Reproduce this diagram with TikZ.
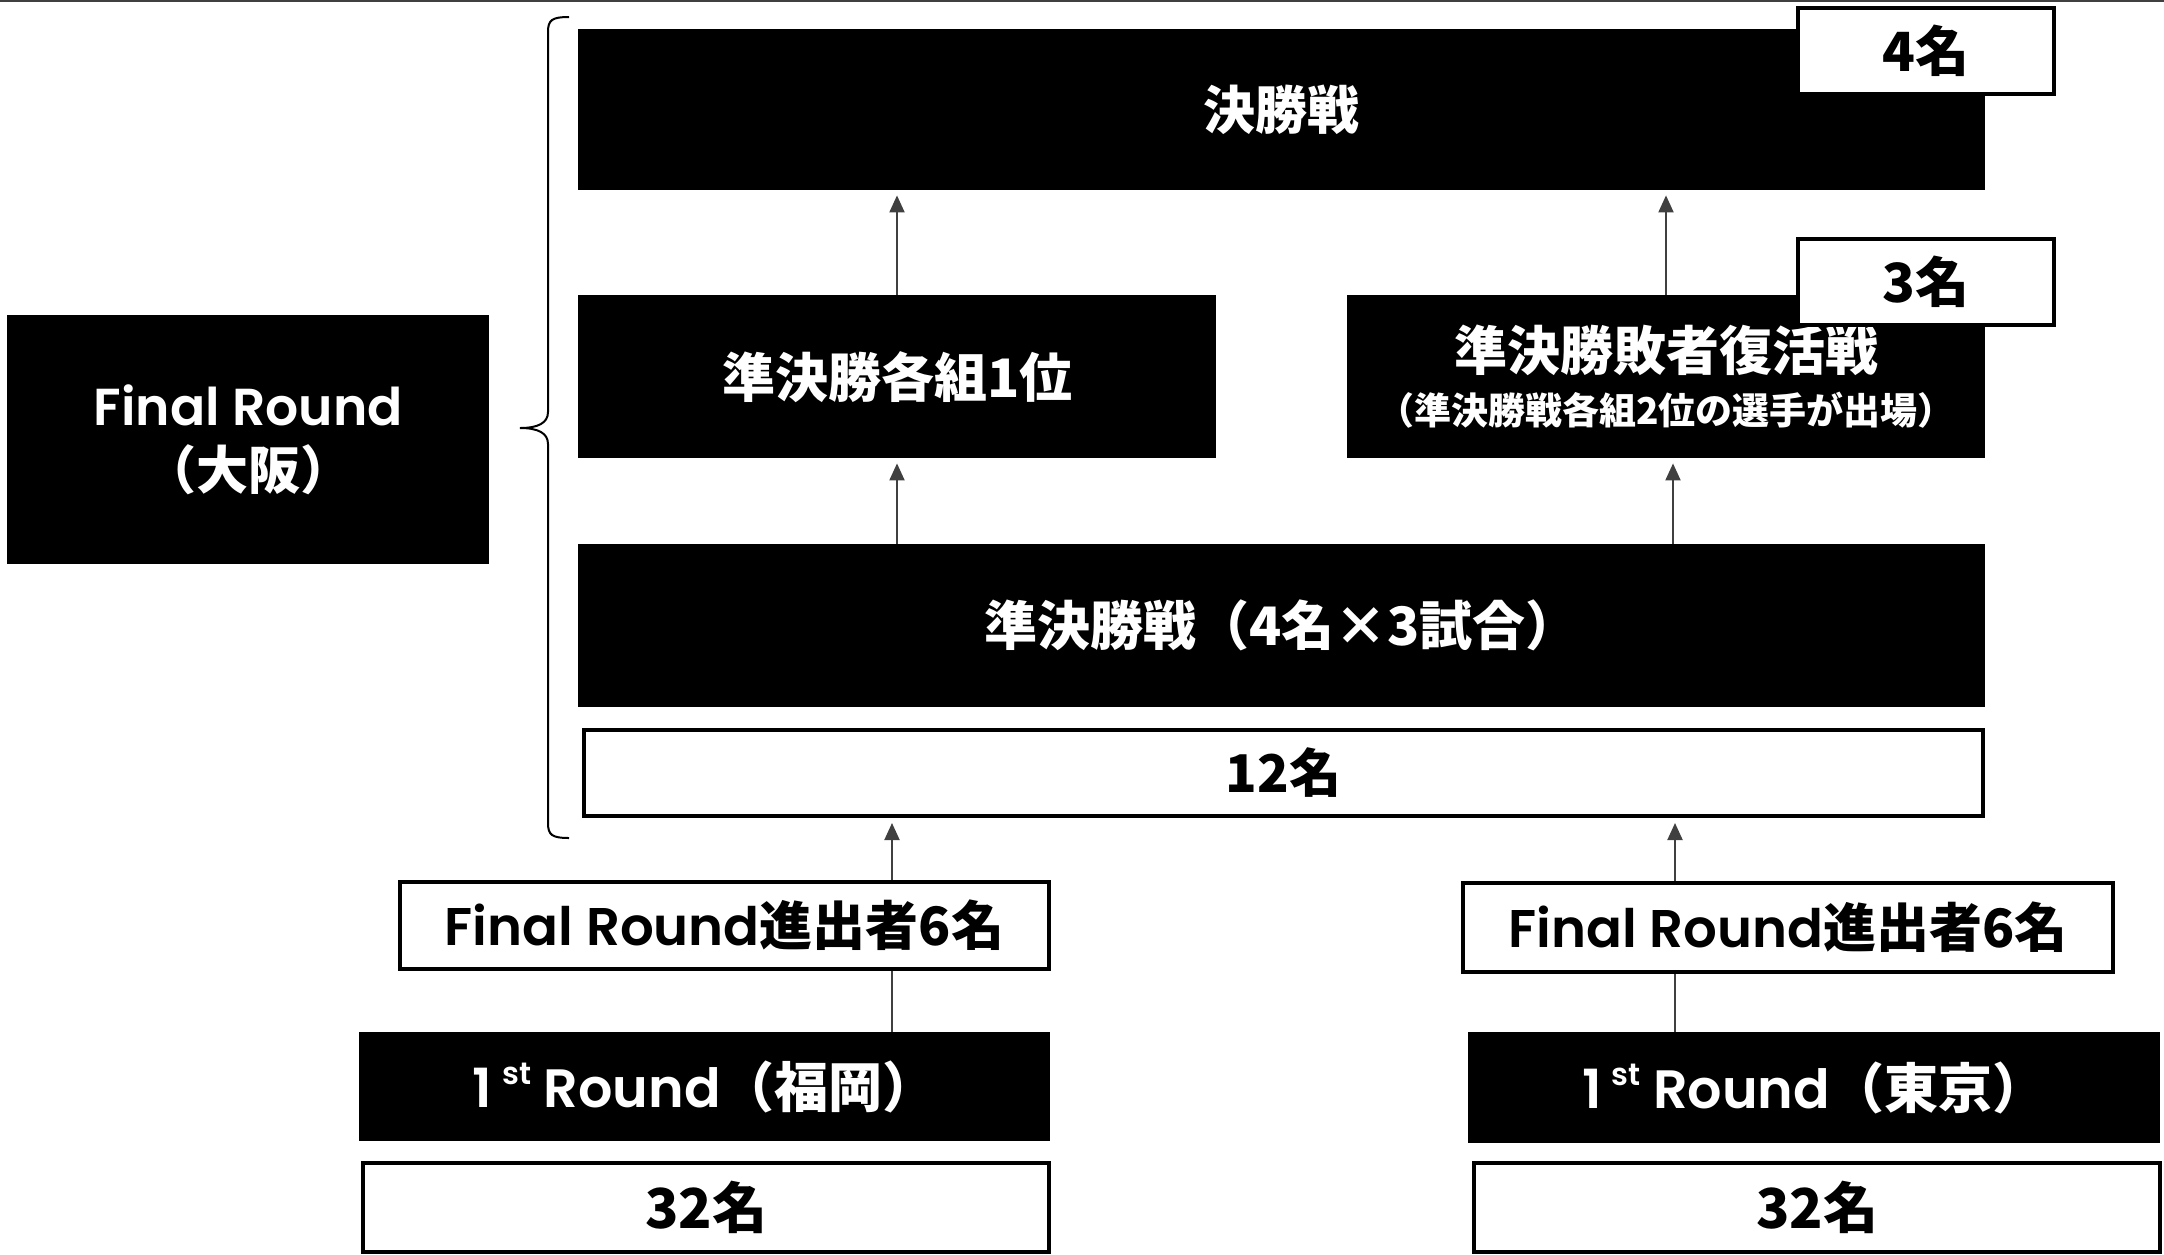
\documentclass[tikz,border=0pt]{standalone}
\usepackage{fontspec}
\newfontfamily\cjk{Noto Sans CJK JP}
\newfontfamily\lat{Poppins SemiBold}
\usetikzlibrary{arrows.meta}
\newcommand\fsz[2]{\fontsize{#1}{#2}\selectfont}
\newcommand\latx[1]{{\lat\mdseries #1}}
\newcommand\supst{\kern10pt\raisebox{0.42em}{\fsz{31}{31}\lat\mdseries st}}
\begin{document}
\begin{tikzpicture}[x=1pt,y=-1pt,
  blk/.style={fill=black, draw=none, text=white, inner sep=0pt, align=center, anchor=north west},
  wht/.style={fill=white, draw=black, line width=4pt, inner sep=0pt, align=center, anchor=north west},
  conn/.style={draw=black!75, line width=2pt},
  arr/.style={conn, -{Triangle[width=15pt,length=17pt]}, shorten >=5pt}
]
\useasboundingbox (0,0) rectangle (2164,1254);
\draw[black!75, line width=2pt] (0,1) -- (2164,1);

% left label
\node[blk, minimum width=482pt, minimum height=249pt, font=\cjk\bfseries\fsz{52}{64}] (fr) at (7,315)
  {\latx{Final Round}\\（大阪）};

% brace
\draw[black, line width=2pt] (569,17) .. controls (552,17) and (548,20) .. (548,32) -- (548,412)
  .. controls (548,423) and (538,428) .. (520,428)
  .. controls (538,428) and (548,433) .. (548,444) -- (548,823)
  .. controls (548,835) and (552,838) .. (569,838);

% Final Round blocks
\node[blk, minimum width=1407pt, minimum height=161pt, font=\cjk\bfseries\fsz{52}{60}] (final) at (578,29) {決勝戦};
\node[wht, minimum width=256pt, minimum height=86pt, font=\cjk\bfseries\fsz{54}{60}] (n4) at (1796,6) {4名};

\node[blk, minimum width=638pt, minimum height=163pt, font=\cjk\bfseries\fsz{53}{60}] (sf1) at (578,295) {準決勝各組1位};
\node[blk, minimum width=638pt, minimum height=163pt, font=\cjk\bfseries\fsz{53}{62}] (rev) at (1347,295)
  {準決勝敗者復活戦\\[-8pt]{\fsz{37}{44}（準決勝戦各組2位の選手が出場）}};
\node[wht, minimum width=256pt, minimum height=86pt, font=\cjk\bfseries\fsz{54}{60}] (n3) at (1796,237) {3名};

\node[blk, minimum width=1407pt, minimum height=163pt, font=\cjk\bfseries\fsz{53}{60}] (semi) at (578,544) {準決勝戦（4名×3試合）};
\node[wht, minimum width=1399pt, minimum height=86pt, font=\cjk\bfseries\fsz{52}{58}] (n12) at (582,728) {12名};

% 1st rounds
\node[wht, minimum width=649pt, minimum height=87pt, font=\cjk\bfseries\fsz{53}{58}] (adv1) at (398,880) {\latx{Final Round}進出者6名};
\node[wht, minimum width=650pt, minimum height=89pt, font=\cjk\bfseries\fsz{53}{58}] (adv2) at (1461,881) {\latx{Final Round}進出者6名};

\node[blk, minimum width=691pt, minimum height=109pt, font=\cjk\bfseries\fsz{54}{58}] (r1a) at (359,1032) {\latx{1}\supst\ \latx{Round}（福岡）};
\node[blk, minimum width=692pt, minimum height=111pt, font=\cjk\bfseries\fsz{54}{58}] (r1b) at (1468,1032) {\latx{1}\supst\ \latx{Round}（東京）};

\node[wht, minimum width=686pt, minimum height=89pt, font=\cjk\bfseries\fsz{55}{58}] (c32a) at (361,1161) {32名};
\node[wht, minimum width=686pt, minimum height=89pt, font=\cjk\bfseries\fsz{55}{58}] (c32b) at (1472,1161) {32名};

% connector x positions
\coordinate (xa) at (897,0);
\coordinate (xb) at (1666,0);
\coordinate (xc) at (1673,0);
\coordinate (xd) at (892,0);
\coordinate (xe) at (1675,0);

\draw[arr] (sf1.north -| xa) -- (final.south -| xa);
\draw[arr] (rev.north -| xb) -- (final.south -| xb);
\draw[arr] (semi.north -| xa) -- (sf1.south -| xa);
\draw[arr] (semi.north -| xc) -- (rev.south -| xc);
\draw[arr] (adv1.north -| xd) -- (n12.south -| xd);
\draw[arr] (adv2.north -| xe) -- (n12.south -| xe);
\draw[conn] (r1a.north -| xd) -- (adv1.south -| xd);
\draw[conn] (r1b.north -| xe) -- (adv2.south -| xe);
\end{tikzpicture}
\end{document}
